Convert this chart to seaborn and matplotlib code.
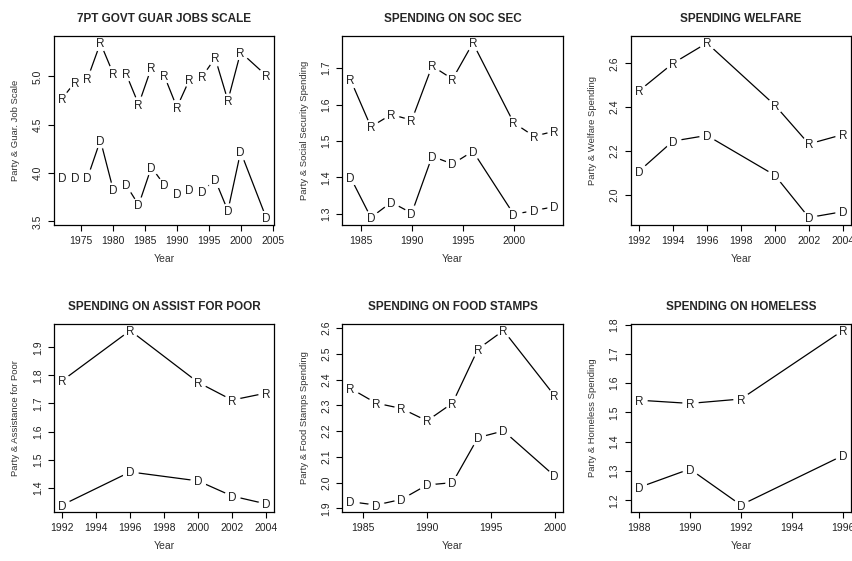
import numpy as np
import pandas as pd
import seaborn as sns
import matplotlib
matplotlib.use("Agg")
import matplotlib.pyplot as plt
from matplotlib.ticker import MultipleLocator, FormatStrFormatter

sns.set_theme(style="ticks")
plt.rcParams['font.family'] = ['Liberation Sans', 'DejaVu Sans']

# 7pt govt guaranteed jobs scale
jobs_years = [1972, 1974, 1976, 1978, 1980, 1982, 1984, 1986, 1988, 1990,
              1992, 1994, 1996, 1998, 2000, 2004]
jobs_r = [4.77, 4.94, 4.98, 5.345, 5.03, 5.03, 4.71, 5.09, 5.01, 4.68,
          4.97, 5.00, 5.19, 4.75, 5.25, 5.01]
jobs_d = [3.955, 3.955, 3.955, 4.34, 3.83, 3.88, 3.67, 4.06, 3.88, 3.79,
          3.83, 3.81, 3.93, 3.61, 4.22, 3.54]

# spending on social security
socsec_years = [1984, 1986, 1988, 1990, 1992, 1994, 1996, 2000, 2002, 2004]
socsec_r = [1.668, 1.539, 1.573, 1.557, 1.706, 1.670, 1.769, 1.550, 1.513, 1.527]
socsec_d = [1.400, 1.290, 1.332, 1.302, 1.458, 1.437, 1.472, 1.299, 1.309, 1.320]

# spending on welfare
welfare_years = [1992, 1994, 1996, 2000, 2002, 2004]
welfare_r = [2.474, 2.600, 2.693, 2.409, 2.232, 2.275]
welfare_d = [2.107, 2.245, 2.271, 2.089, 1.896, 1.923]

# spending on assistance for the poor
poor_years = [1992, 1996, 2000, 2002, 2004]
poor_r = [1.781, 1.960, 1.775, 1.712, 1.737]
poor_d = [1.338, 1.456, 1.424, 1.370, 1.342]

# spending on food stamps
food_years = [1984, 1986, 1988, 1990, 1992, 1994, 1996, 2000]
food_r = [2.366, 2.309, 2.288, 2.240, 2.309, 2.519, 2.591, 2.338]
food_d = [1.926, 1.913, 1.935, 1.991, 2.000, 2.175, 2.201, 2.026]

# spending on homeless
homeless_years = [1988, 1990, 1992, 1996]
homeless_r = [1.542, 1.531, 1.546, 1.780]
homeless_d = [1.244, 1.307, 1.184, 1.353]

panels = [
    ("7PT GOVT GUAR JOBS SCALE", "Party & Guar. Job Scale",
     jobs_years, jobs_r, jobs_d, 5, 0.5),
    ("SPENDING ON SOC SEC", "Party & Social Security Spending",
     socsec_years, socsec_r, socsec_d, 5, 0.1),
    ("SPENDING WELFARE", "Party & Welfare Spending",
     welfare_years, welfare_r, welfare_d, 2, 0.2),
    ("SPENDING ON ASSIST FOR POOR", "Party & Assistance for Poor",
     poor_years, poor_r, poor_d, 2, 0.1),
    ("SPENDING ON FOOD STAMPS", "Party & Food Stamps Spending",
     food_years, food_r, food_d, 5, 0.1),
    ("SPENDING ON HOMELESS", "Party & Homeless Spending",
     homeless_years, homeless_r, homeless_d, 2, 0.1),
]

fig, axes = plt.subplots(2, 3, figsize=(8.53, 5.61), dpi=100)
fig.subplots_adjust(left=0.0633, right=0.9977, top=0.9358, bottom=0.0873,
                    wspace=0.309, hspace=0.525)


def pad_range(vals):
    lo, hi = min(vals), max(vals)
    d = (hi - lo) * 0.04
    return lo - d, hi + d


for ax, (title, ylabel, years, r_vals, d_vals, xstep, ystep) in zip(axes.flat, panels):
    df = pd.DataFrame({"Year": years * 2,
                       "value": r_vals + d_vals,
                       "party": ["R"] * len(years) + ["D"] * len(years)})
    sns.lineplot(data=df, x="Year", y="value", units="party", estimator=None,
                 color="black", lw=0.9, marker="o", markersize=11,
                 markerfacecolor="white", markeredgecolor="white", ax=ax)
    for _, row in df.iterrows():
        ax.text(row["Year"], row["value"], row["party"], ha="center",
                va="center_baseline", fontsize=8.5, color="#222222", zorder=5)

    ax.set_xlim(*pad_range(years))
    ax.set_ylim(*pad_range(r_vals + d_vals))
    ax.xaxis.set_major_locator(MultipleLocator(xstep))
    ax.yaxis.set_major_locator(MultipleLocator(ystep))
    ax.yaxis.set_major_formatter(FormatStrFormatter("%.1f"))

    for s in ax.spines.values():
        s.set_visible(True)
        s.set_linewidth(0.9)
        s.set_color("black")
    ax.tick_params(axis="both", direction="out", length=4, width=0.8,
                   labelsize=7.5, colors="black", labelcolor="#222222", pad=4)
    ax.tick_params(axis="y", labelrotation=90)
    for lab in ax.get_yticklabels():
        lab.set_va("center")

    ax.set_title(title, fontsize=8.5, fontweight="bold", pad=10)
    ax.set_xlabel("Year", fontsize=7.5, color="#333333", labelpad=6)
    ax.set_ylabel(ylabel, fontsize=6.8, color="#333333", labelpad=9)

fig.savefig("out.png", dpi=100)
